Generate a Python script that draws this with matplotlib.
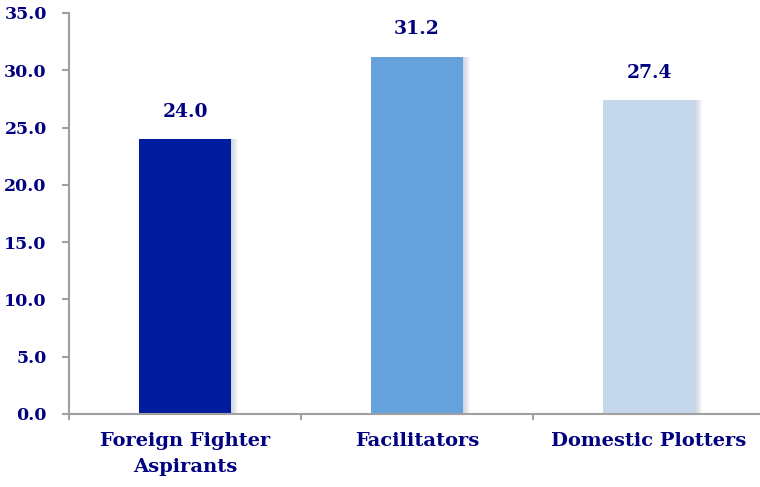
import numpy as np
import matplotlib.pyplot as plt

# data
categories = ['Foreign Fighter\nAspirants', 'Facilitators', 'Domestic Plotters']
values = [24.0, 31.2, 27.4]
bar_colors = ['#021C9E', '#65A2DC', '#C4D7EB']
yticks = [0, 5, 10, 15, 20, 25, 30, 35]

navy = '#000080'
grey = '#A0A0A0'
font = 'DejaVu Serif'

fig = plt.figure(figsize=(7.6, 4.87), dpi=100)
ax = fig.add_axes([69 / 760, 73 / 487, 696 / 760, 401 / 487])

x = np.arange(len(categories))
w = 0.40

# soft shadow on the right side of the bars (stacked faint layers)
for k in np.linspace(0.004, 0.03, 7):
    ax.bar(x + k, values, w, color='#7080A0', alpha=0.05, zorder=1, linewidth=0)
ax.bar(x, values, w, color=bar_colors, zorder=2, linewidth=0)

for xi, v in zip(x, values):
    ax.text(xi, v + 1.6, f'{v:.1f}', ha='center', va='bottom', color=navy,
            fontsize=13.5, fontweight='bold', family=font)

ax.set_xlim(-0.5, 2.5)
ax.set_ylim(0, 35)
ax.set_yticks(yticks)
ax.set_yticklabels([f'{t:.1f}' for t in yticks])
ax.set_xticks(x)
ax.set_xticklabels(categories)
ax.set_xticks([-0.5, 0.5, 1.5, 2.5], minor=True)

for s in ['top', 'right']:
    ax.spines[s].set_visible(False)
for s in ['left', 'bottom']:
    ax.spines[s].set_color(grey)
    ax.spines[s].set_linewidth(1.5)

ax.tick_params(axis='y', length=5, width=1.5, color=grey, pad=11,
               labelsize=12.5, labelcolor=navy)
ax.tick_params(axis='x', which='major', length=0, pad=13,
               labelsize=14, labelcolor=navy)
ax.tick_params(axis='x', which='minor', length=4, width=1.5, color=grey)
for lab in ax.get_xticklabels() + ax.get_yticklabels():
    lab.set_family(font)
    lab.set_fontweight('bold')
for lab in ax.get_xticklabels():
    lab.set_linespacing(1.6)

fig.savefig('out.png', dpi=100)
